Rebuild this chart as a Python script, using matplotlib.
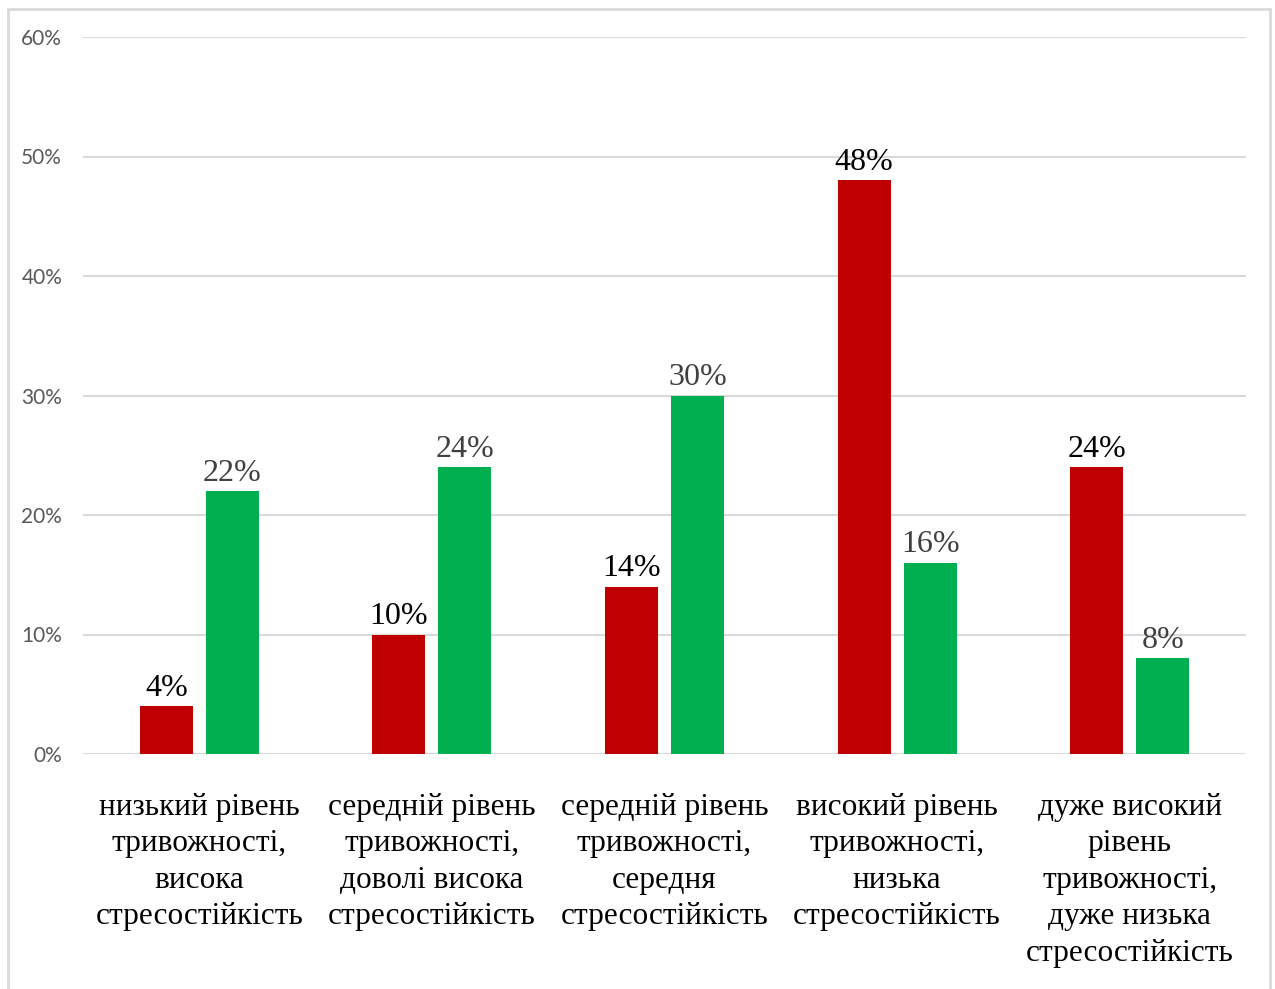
import numpy as np
import matplotlib.pyplot as plt
from matplotlib.patches import Rectangle
from matplotlib.ticker import PercentFormatter

categories = [
    "низький рівень\nтривожності,\nвисока\nстресостійкість",
    "середній рівень\nтривожності,\nдоволі висока\nстресостійкість",
    "середній рівень\nтривожності,\nсередня\nстресостійкість",
    "високий рівень\nтривожності,\nнизька\nстресостійкість",
    "дуже високий\nрівень\nтривожності,\nдуже низька\nстресостійкість",
]
red_vals = [4, 10, 14, 48, 24]
green_vals = [22, 24, 30, 16, 8]

W, H = 1275, 989
fig = plt.figure(figsize=(W / 100, H / 100), dpi=100)
ax = fig.add_axes([83 / W, 1 - 754 / H, (1246 - 83) / W, (754 - 37) / H])

# outer frame (bottom edge is cut off in the original)
fig.add_artist(Rectangle((8 / W, -0.01), (1270 - 8) / W, 1 - 9 / H + 0.01,
                         transform=fig.transFigure, fill=False,
                         edgecolor="#d9d9d9", linewidth=2))

x = np.arange(len(categories))
bw = 0.228
off = 0.142
b1 = ax.bar(x - off, red_vals, bw, color="#c00000", zorder=3)
b2 = ax.bar(x + off, green_vals, bw, color="#00b050", zorder=3)

for bars, vals, col in [(b1, red_vals, "black"), (b2, green_vals, "#404040")]:
    for b, v in zip(bars, vals):
        ax.text(b.get_x() + b.get_width() / 2, v + 0.3, f"{v}%",
                ha="center", va="bottom", fontsize=23,
                family="Liberation Serif", color=col)

ax.set_xlim(-0.5, len(categories) - 0.5)
ax.set_ylim(0, 60)
ax.set_yticks(range(0, 61, 10))
ax.yaxis.set_major_formatter(PercentFormatter(decimals=0))
ax.grid(axis="y", color="#d9d9d9", linewidth=1.5, zorder=0)
for s in ax.spines.values():
    s.set_visible(False)
ax.tick_params(axis="y", length=0, pad=15, labelsize=15, labelcolor="#595959")
for lab in ax.get_yticklabels():
    lab.set_family("Lato")

ax.set_xticks(x)
ax.set_xticklabels(categories, fontsize=22.5, family="Liberation Serif",
                   linespacing=1.34, va="top")
ax.tick_params(axis="x", length=0, pad=28)

fig.savefig("out.png", dpi=100)
